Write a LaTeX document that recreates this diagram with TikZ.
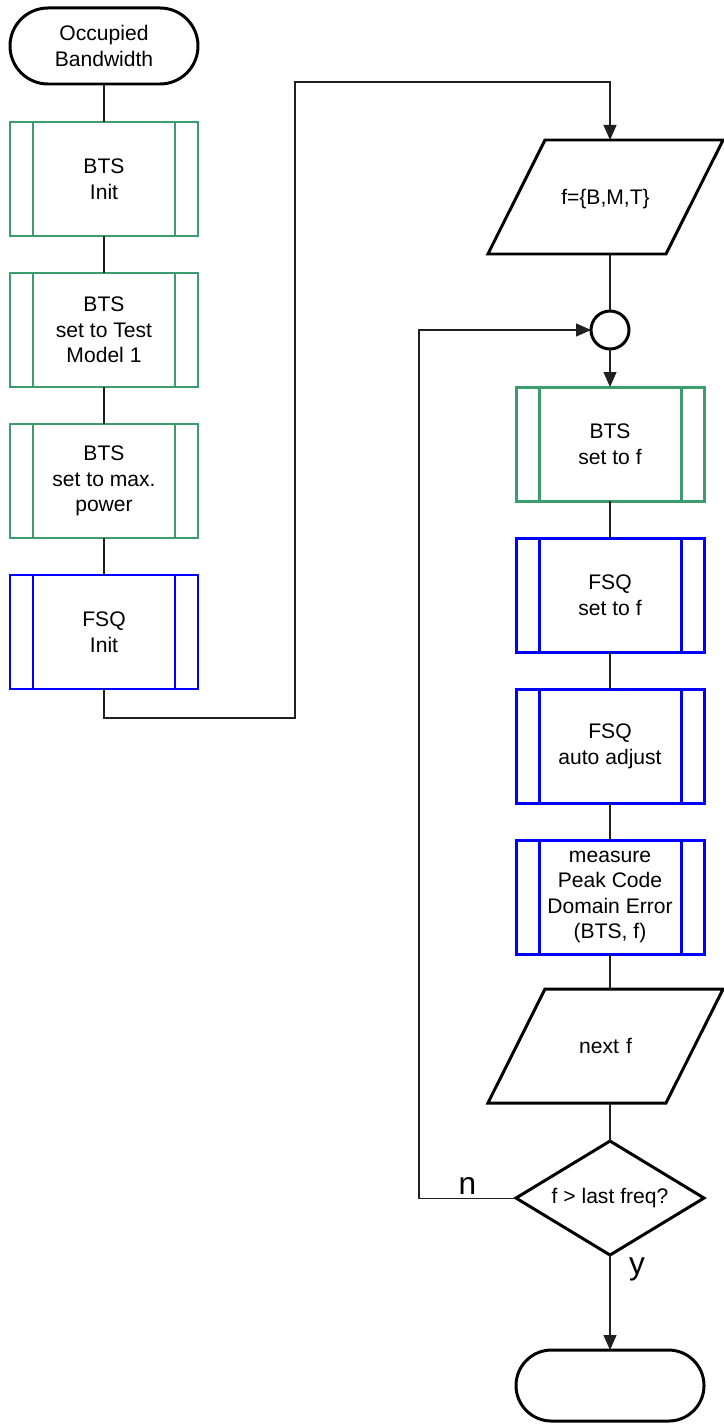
\documentclass[tikz,border=0pt]{standalone}
\usepackage{fontspec}
\setmainfont{Liberation Sans}
\usetikzlibrary{shapes.geometric, arrows.meta, positioning, calc}
\definecolor{fgreen}{HTML}{3C9D6C}
\definecolor{fblue}{HTML}{0000FF}
\definecolor{fline}{HTML}{202020}
\tikzset{
  term/.style={rectangle, rounded corners=0.76cm, draw=black, line width=1.7pt, outer sep=0pt,
               minimum width=3.76cm, minimum height=1.52cm, align=center},
  sub/.style={rectangle, draw=#1, line width=1.7pt, inner sep=1pt, outer sep=0pt,
              minimum width=3.76cm, minimum height=2.28cm, align=center,
              path picture={\draw[#1, line width=1.7pt]
                ([xshift=0.46cm]path picture bounding box.north west) -- ([xshift=0.46cm]path picture bounding box.south west)
                ([xshift=-0.46cm]path picture bounding box.north east) -- ([xshift=-0.46cm]path picture bounding box.south east);}},
  io/.style={trapezium, trapezium left angle=63.4, trapezium right angle=116.6,
             draw=black, line width=1.7pt, inner sep=0pt, outer sep=0pt,
             text width=2.42cm, text height=1.285cm, text depth=0.995cm, align=center},
  junc/.style={circle, draw=black, line width=1.7pt, minimum size=0.76cm, inner sep=0pt, outer sep=0pt},
  dec/.style={diamond, aspect=1.65, draw=black, line width=1.7pt, inner sep=0pt, outer sep=0pt,
              minimum width=3.76cm, minimum height=2.28cm, align=center},
  link/.style={draw=fline, line width=0.6pt},
  flow/.style={-{Triangle[length=3mm, width=2.6mm]}, draw=fline, line width=0.6pt},
  lbl/.style={font=\fontsize{18}{20}\selectfont, inner sep=2pt}
}
\begin{document}
\begin{tikzpicture}[node distance=0.74cm, font=\fontsize{12}{14.6}\selectfont]
  \useasboundingbox (0,0) rectangle (14.46,-28.5);

  \node[term] (start) at (2.08,-0.92) {Occupied\\Bandwidth};
  \node[sub=fgreen, below=0.76cm of start] (btsinit) {BTS\\Init};
  \node[sub=fgreen, below=of btsinit] (btstm) {BTS\\set to Test\\Model 1};
  \node[sub=fgreen, below=of btstm] (btspow) {BTS\\set to max.\\power};
  \node[sub=fblue, below=of btspow] (fsqinit) {FSQ\\Init};

  \node[io] (fin) at (12.11,-3.94) {f=\{B,M,T\}};
  \node[junc, below=1.14cm of fin, xshift=0.09cm] (join) {};
  \node[sub=fgreen, below=0.76cm of join] (btsf) {BTS\\set to f};
  \node[sub=fblue, below=of btsf] (fsqf) {FSQ\\set to f};
  \node[sub=fblue, below=of fsqf] (fsqadj) {FSQ\\auto adjust};
  \node[sub=fblue, below=of fsqadj] (pcde) {measure\\Peak Code\\Domain Error\\(BTS, f)};
  \node[io, below=0.7cm of pcde, xshift=-0.09cm] (nextf) {next f};
  \node[dec, below=0.76cm of nextf, xshift=0.09cm] (test) {f > last freq?};
  \node[term, below=1.9cm of test, minimum height=1.42cm, rounded corners=0.71cm] (stop) {};

  \coordinate (c1) at (5.9,-14.36);
  \coordinate (c2) at (5.9,-1.64);
  \coordinate (loopx) at (8.38,-6.6);

  \draw[link] (start) -- (btsinit);
  \draw[link] (btsinit) -- (btstm);
  \draw[link] (btstm) -- (btspow);
  \draw[link] (btspow) -- (fsqinit);
  \draw[flow] (fsqinit.south) |- (c1) -- (c2) -| (join |- fin.north);
  \draw[link] (join |- fin.south) -- (join);
  \draw[flow] (join) -- (btsf);
  \draw[link] (btsf) -- (fsqf);
  \draw[link] (fsqf) -- (fsqadj);
  \draw[link] (fsqadj) -- (pcde);
  \draw[link] (pcde) -- (join |- nextf.north);
  \draw[link] (join |- nextf.south) -- (test);
  \draw[flow] (test.west) -- node[above, lbl] {n} (test.west -| loopx) |- (join.west);
  \draw[flow] (test) -- node[pos=0.15, right=0.3cm, lbl] {y} (stop);
\end{tikzpicture}
\end{document}
